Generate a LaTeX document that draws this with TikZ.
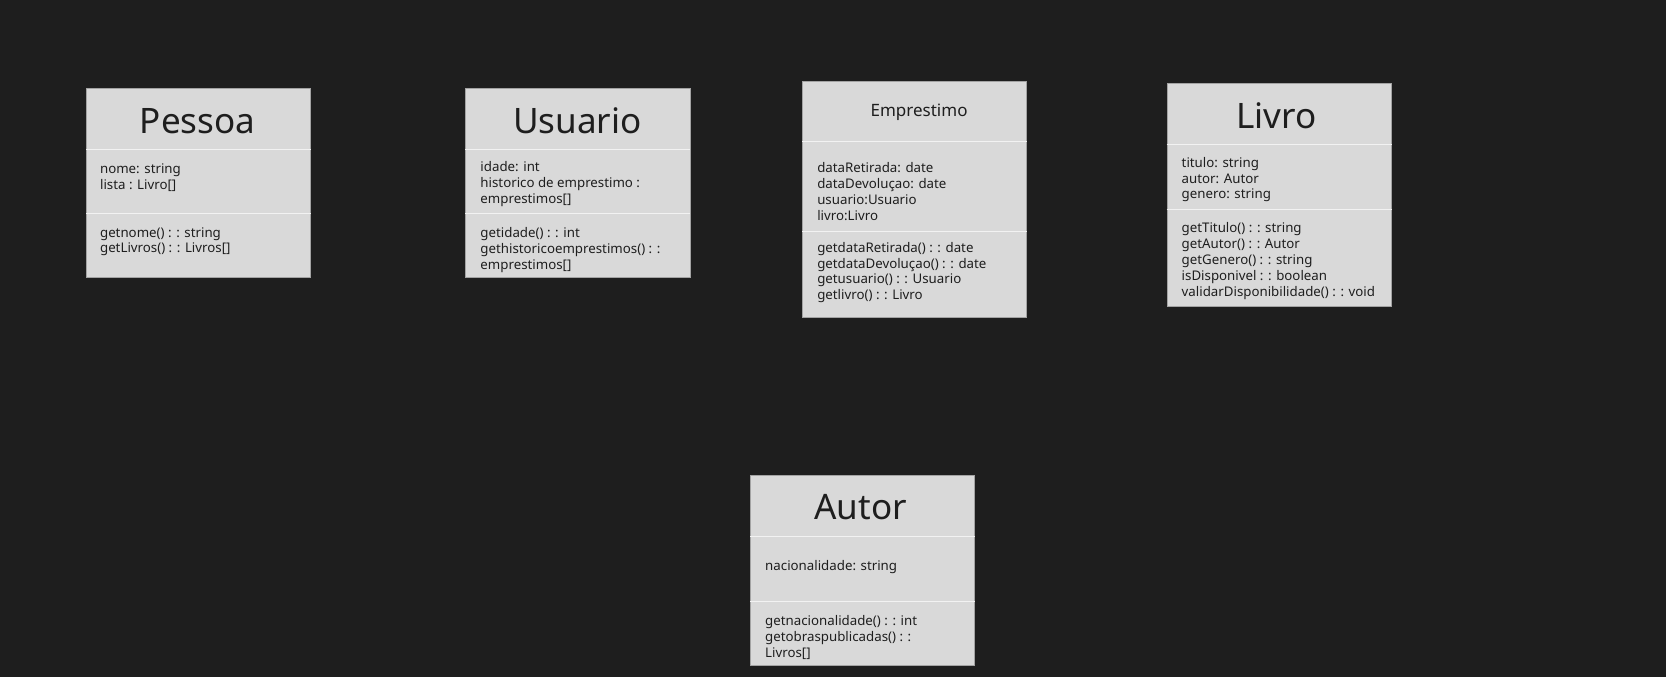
\documentclass[tikz,border=0pt]{standalone}
\usepackage{fontspec}
\setmainfont{Noto Sans}
\definecolor{bgc}{HTML}{1E1E1E}
\definecolor{boxfill}{HTML}{D9D9D9}
\definecolor{boxline}{HTML}{A3A3A3}
\definecolor{divc}{HTML}{F2F2F2}
\definecolor{txt}{HTML}{1E1E1E}
\begin{document}
\begin{tikzpicture}[x=1pt,y=-1pt,
  classbox/.style={draw=boxline, line width=0.8pt, fill=boxfill, anchor=north west, inner sep=0pt, minimum width=211pt},
  divider/.style={draw=divc, line width=1.2pt},
  title/.style={text=txt, inner sep=0pt, font=\fontsize{33}{38}\selectfont},
  smalltitle/.style={text=txt, inner sep=0pt, font=\fontsize{16}{19}\selectfont},
  member/.style={text=txt, inner sep=0pt, anchor=west, align=left, font=\fontsize{12.5}{15}\selectfont}
]
\fill[bgc] (0,0) rectangle (1568,637);
\useasboundingbox (0,0) rectangle (1568,637);

% Pessoa
\node[classbox, minimum height=178pt] (pessoa) at (81,83) {};
\draw[divider] (pessoa.west |- 0,141) -- (pessoa.east |- 0,141);
\draw[divider] (pessoa.west |- 0,201) -- (pessoa.east |- 0,201);
\node[title] (pessoaT) at (186,114) {Pessoa};
\node[member] (pessoaA) at (94,167.5) {nome: string\\lista : Livro[]};
\node[member] (pessoaM) at (94,227.5) {getnome() : : string\\getLivros() : : Livros[]};

% Usuario
\node[classbox, minimum height=178pt] (usuario) at (438,83) {};
\draw[divider] (usuario.west |- 0,141) -- (usuario.east |- 0,141);
\draw[divider] (usuario.west |- 0,201) -- (usuario.east |- 0,201);
\node[title] (usuarioT) at (543.5,114) {Usuario};
\node[member] (usuarioA) at (452,173) {idade: int\\historico de emprestimo :\\emprestimos[]};
\node[member] (usuarioM) at (452,235) {getidade() : : int\\gethistoricoemprestimos() : :\\emprestimos[]};

% Emprestimo
\node[classbox, minimum height=222pt] (emprestimo) at (755,76) {};
\draw[divider] (emprestimo.west |- 0,133) -- (emprestimo.east |- 0,133);
\draw[divider] (emprestimo.west |- 0,218) -- (emprestimo.east |- 0,218);
\node[smalltitle] (emprestimoT) at (865,106) {Emprestimo};
\node[member] (emprestimoA) at (769,180.5) {dataRetirada: date\\dataDevoluçao: date\\usuario:Usuario\\livro:Livro};
\node[member] (emprestimoM) at (769,256.5) {getdataRetirada() : : date\\getdataDevoluçao() : : date\\getusuario() : : Usuario\\getlivro() : : Livro};

% Livro
\node[classbox, minimum height=210pt] (livro) at (1098,78) {};
\draw[divider] (livro.west |- 0,136) -- (livro.east |- 0,136);
\draw[divider] (livro.west |- 0,197) -- (livro.east |- 0,197);
\node[title] (livroT) at (1201.5,109) {Livro};
\node[member] (livroA) at (1112,169) {titulo: string\\autor: Autor\\genero: string};
\node[member] (livroM) at (1112,246) {getTitulo() : : string\\getAutor() : : Autor\\getGenero() : : string\\isDisponivel : : boolean\\validarDisponibilidade() : : void};

% Autor
\node[classbox, minimum height=179pt] (autor) at (706,447) {};
\draw[divider] (autor.west |- 0,505) -- (autor.east |- 0,505);
\draw[divider] (autor.west |- 0,566) -- (autor.east |- 0,566);
\node[title] (autorT) at (810,477) {Autor};
\node[member] (autorA) at (720,534) {nacionalidade: string};
\node[member] (autorM) at (720,600) {getnacionalidade() : : int\\getobraspublicadas() : :\\Livros[]};
\end{tikzpicture}
\end{document}
